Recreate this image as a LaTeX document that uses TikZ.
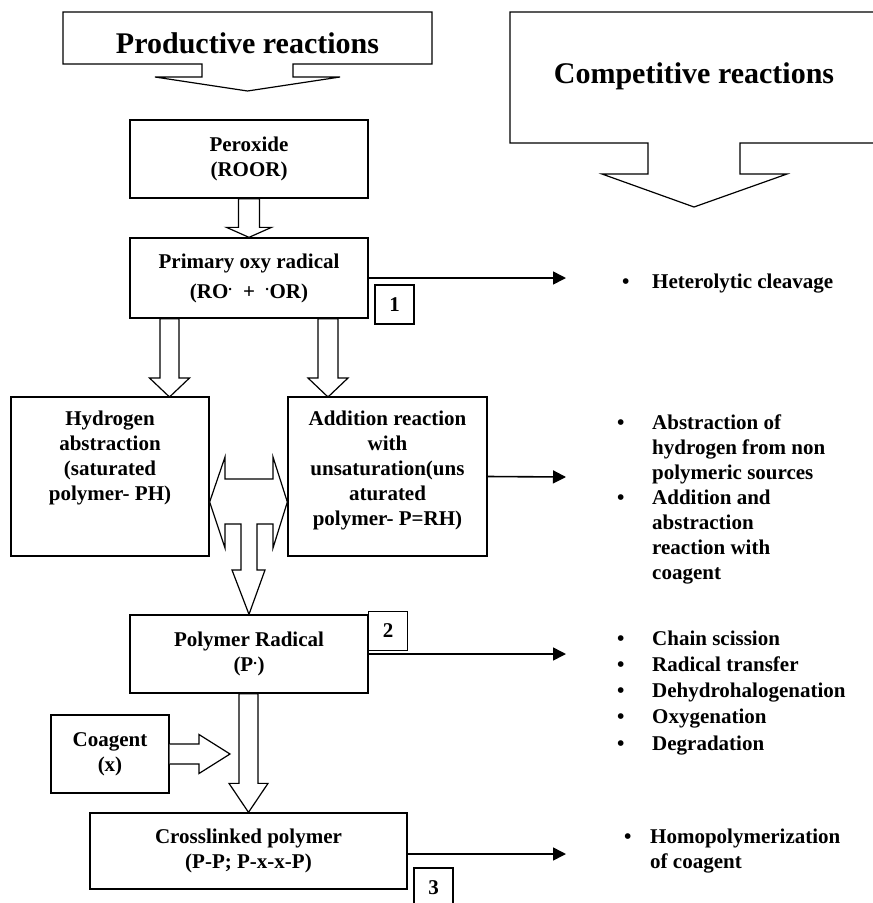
\documentclass[tikz,border=0pt]{standalone}
\usepackage{fontspec}
\setmainfont{Liberation Serif}
\usetikzlibrary{calc,arrows.meta}

\tikzset{
  txt/.style={font=\bfseries\fontsize{21}{25}\selectfont, inner sep=0pt, align=center},
  head/.style={font=\bfseries\fontsize{30}{36}\selectfont, inner sep=0pt},
  box/.style={txt, draw, line width=1.3pt},
  numbox/.style={box, minimum width=39, minimum height=39},
  blk/.style={draw, line width=1.2pt, fill=white, line join=miter},
  conn/.style={line width=1.6pt, -{Triangle[length=13pt,width=13pt]}},
  lst/.style={font=\bfseries\fontsize{21}{25}\selectfont, inner sep=0pt, anchor=base west},
}

% hollow arrow pointing down: start anchor, tip, half stem, half head, head length
\newcommand{\blockdown}[5]{%
  \draw[blk] ($(#1 -| #2)+(-#3,0)$) -- ($(#2)+(-#3,-#5)$) -- ($(#2)+(-#4,-#5)$)
    -- (#2) -- ($(#2)+(#4,-#5)$) -- ($(#2)+(#3,-#5)$) -- ($(#1 -| #2)+(#3,0)$) -- cycle;}

\begin{document}
\begin{tikzpicture}[x=1pt,y=-1pt]
\useasboundingbox (0,0) rectangle (873,903);
\clip (0,0) rectangle (873,903);

% headings
\draw[blk] (63,12) -- (432,12) -- (432,64) -- (293,64) -- (293,77) -- (340,77)
  -- (247.5,91) -- (155,77) -- (202,77) -- (202,64) -- (63,64) -- cycle;
\node[head] (prodtxt) at (247.5,43) {Productive reactions};
\draw[blk] (510,12) -- (878,12) -- (878,143) -- (740,143) -- (740,174) -- (787,174)
  -- (694,207) -- (602,174) -- (648,174) -- (648,143) -- (510,143) -- cycle;
\node[head] (comptxt) at (694,76) {Competitive reactions};

% main chain
\node[box, minimum width=238, minimum height=78] (perox) at (249,159) {Peroxide\\(ROOR)};
\node[box, minimum width=238, minimum height=80] (prim) at (249,278)
  {Primary oxy radical\\[5pt](RO\textsuperscript{.}\ \ +\ \ \textsuperscript{.}OR)};
\node[box, minimum width=198, minimum height=159] (hydro) at (110,476.5) {};
\node[txt, anchor=north] (hydrotxt) at ($(hydro.north)+(0,14)$)
  {Hydrogen\\abstraction\\(saturated\\polymer- PH)};
\node[box, minimum width=199, minimum height=159] (addn) at (387.5,476.5) {};
\node[txt, anchor=north] (addntxt) at ($(addn.north)+(0,14)$)
  {Addition reaction\\with\\unsaturation(uns\\aturated\\polymer- P=RH)};
\node[box, minimum width=238, minimum height=78] (poly) at (249,654) {Polymer Radical\\(P\textsuperscript{.})};
\node[box, minimum width=118, minimum height=78] (coag) at (110,754) {Coagent\\(x)};
\node[box, minimum width=317, minimum height=76] (cross) at (248.5,851) {Crosslinked polymer\\(P-P; P-x-x-P)};

% step numbers
\node[numbox] (n1) at (394.5,304.5) {1};
\node[numbox] (n2) at (388,631) {2};
\node[numbox] (n3) at (433.5,887.5) {3};

% hollow arrows
\coordinate (t1) at (169.5,397);
\coordinate (t2) at (328,397);
\blockdown{perox.south}{prim.north}{10.5}{22.5}{10}
\blockdown{prim.south}{t1}{9.5}{20}{19}
\blockdown{prim.south}{t2}{10}{20}{19}
\blockdown{poly.south}{cross.north}{9.5}{19.5}{29}

\coordinate (hl) at ($(hydro.east)+(0,25.5)$);
\coordinate (hr) at ($(addn.west)+(0,25.5)$);
\draw[blk] (hl) -- (225,457) -- (225,479) -- (273,479) -- (273,457) -- (hr) -- (273,548)
  -- (273,524) -- (257,524) -- (257,570) -- (265,570) -- (poly.north) -- (232,570)
  -- (241,570) -- (241,524) -- (225,524) -- (225,548) -- cycle;

\coordinate (tc) at (230,754);
\draw[blk] ($(coag.east)+(0,-10)$) -- ($(tc)+(-31,-10)$) -- ($(tc)+(-31,-19.5)$) -- (tc)
  -- ($(tc)+(-31,19.5)$) -- ($(tc)+(-31,10)$) -- ($(coag.east)+(0,10)$);

% side reactions
\coordinate (c1) at (566,278);
\coordinate (c2) at (566,477);
\coordinate (c3) at (566,654);
\coordinate (c4) at (566,854);
\draw[conn] (prim.east) -- (c1);
\draw[conn] (addn.east) -- (c2);
\draw[conn] (poly.east) -- (c3);
\draw[conn] (cross.east |- c4) -- (c4);

\node[lst] (l1) at (622,288) {\begin{tabular}[t]{@{}p{30pt}@{}l@{}}
  \textbullet & Heterolytic cleavage\end{tabular}};
\node[lst] (l2) at (617,429) {\begin{tabular}[t]{@{}p{35pt}@{}l@{}}
  \textbullet & Abstraction of\\ & hydrogen from non\\ & polymeric sources\\
  \textbullet & Addition and\\ & abstraction\\ & reaction with\\ & coagent\end{tabular}};
\node[lst] (l3) at (617,645) {\renewcommand\arraystretch{1.05}\begin{tabular}[t]{@{}p{35pt}@{}l@{}}
  \textbullet & Chain scission\\ \textbullet & Radical transfer\\
  \textbullet & Dehydrohalogenation\\ \textbullet & Oxygenation\\
  \textbullet & Degradation\end{tabular}};
\node[lst] (l4) at (624,843) {\begin{tabular}[t]{@{}p{26pt}@{}l@{}}
  \textbullet & Homopolymerization\\ & of coagent\end{tabular}};
\end{tikzpicture}
\end{document}
